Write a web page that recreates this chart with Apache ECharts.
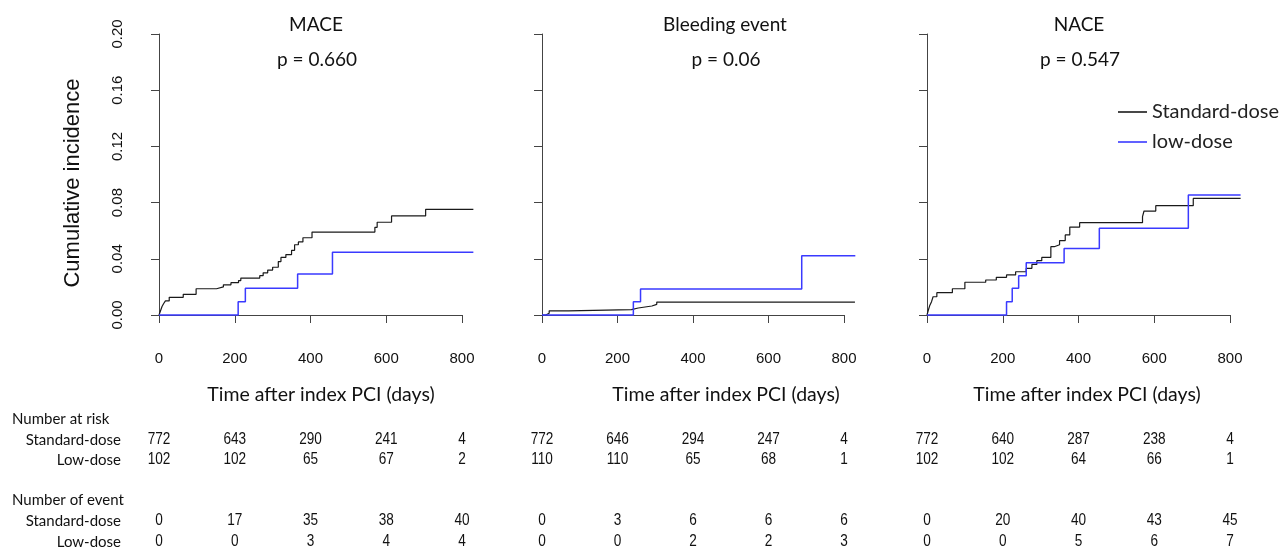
<!DOCTYPE html>
<html><head><meta charset="utf-8">
<script src="https://cdn.jsdelivr.net/npm/echarts@6/dist/echarts.min.js"></script>
<style>html,body{margin:0;padding:0;background:#fff}#c{width:1280px;height:549px}</style>
</head><body><div id="c"></div>
<script>
// ---- data ----
const panelTitles = ['MACE', 'Bleeding event', 'NACE'];
const pValues = ['p = 0.660', 'p = 0.06', 'p = 0.547'];
const seriesNames = ['Standard-dose', 'low-dose'];
const xTicks = [0, 200, 400, 600, 800];
const xDataMax = 830;
const yTickMin = 0, yTickMax = 0.2, yTickStep = 0.04;

const maceStdT = [0, 4, 8, 12, 17, 27, 64, 98, 152, 170, 190, 210, 216, 266, 275, 287, 300, 315, 322, 335, 350, 358, 368, 380, 404, 570, 576, 614, 704, 830];
const maceStdV = [0, 0.003, 0.006, 0.008, 0.010, 0.0126, 0.0147, 0.0187, 0.020, 0.0215, 0.023, 0.0245, 0.0263, 0.028, 0.030, 0.032, 0.034, 0.038, 0.041, 0.043, 0.046, 0.050, 0.052, 0.055, 0.059, 0.0624, 0.066, 0.0705, 0.0752, 0.0752];
const maceLowT = [0, 209, 228, 366, 458, 830];
const maceLowV = [0, 0.0095, 0.019, 0.0292, 0.0446, 0.0446];

const bleedStdT = [0, 10, 19, 70, 237, 255, 291, 304, 829];
const bleedStdV = [0, 0.0012, 0.003, 0.0038, 0.005, 0.0064, 0.0076, 0.0092, 0.0092];
const bleedLowT = [0, 242, 261, 688, 830];
const bleedLowV = [0, 0.0095, 0.0185, 0.0422, 0.0422];

const naceStdT = [0, 3, 7, 12, 16, 26, 67, 100, 155, 183, 210, 234, 262, 277, 290, 303, 327, 336, 350, 365, 377, 403, 569, 573, 604, 703, 828];
const naceStdV = [0, 0.003, 0.0065, 0.0095, 0.013, 0.0159, 0.0187, 0.0233, 0.0249, 0.0268, 0.0285, 0.0308, 0.0332, 0.036, 0.0387, 0.041, 0.0486, 0.050, 0.053, 0.057, 0.0626, 0.0657, 0.070, 0.074, 0.0778, 0.083, 0.083];
const naceLowT = [0, 210, 225, 242, 262, 362, 455, 690, 828];
const naceLowV = [0, 0.0095, 0.019, 0.028, 0.0372, 0.0474, 0.0617, 0.0854, 0.0854];

const tableTimes = [0, 200, 400, 600, 800];
const riskStd = [[772, 643, 290, 241, 4], [772, 646, 294, 247, 4], [772, 640, 287, 238, 4]];
const riskLow = [[102, 102, 65, 67, 2], [110, 110, 65, 68, 1], [102, 102, 64, 66, 1]];
const eventStd = [[0, 17, 35, 38, 40], [0, 3, 6, 6, 6], [0, 20, 40, 43, 45]];
const eventLow = [[0, 0, 3, 4, 4], [0, 0, 2, 2, 3], [0, 0, 5, 6, 7]];
const rowLabels = ['Number at risk', 'Standard-dose', 'Low-dose', 'Number of event', 'Standard-dose', 'Low-dose'];

// ---- layout / style ----
const gridLefts = [159, 542, 927];
const gridWidths = [303, 302, 303];
const yOffsets = [12, 14, 13];
const titleX = [316, 725, 1079];
const xNameX = [321, 726, 1087];
const cal = 'Lato, "Open Sans", sans-serif';
const ari = '"Liberation Sans", Arial, sans-serif';
const axisCol = '#444';
const blk = '#1a1a1a';
const blu = '#3a3aff';

const zip = (t, v) => t.map((x, i) => [x, v[i]]);
const curves = [
  [zip(maceStdT, maceStdV), zip(maceLowT, maceLowV)],
  [zip(bleedStdT, bleedStdV), zip(bleedLowT, bleedLowV)],
  [zip(naceStdT, naceStdV), zip(naceLowT, naceLowV)]
];

const chart = echarts.init(document.getElementById('c'), null, {renderer: 'canvas'});
const grids = [], xAxes = [], yAxes = [], series = [];
// display grids (axes 0..2)
for (let i = 0; i < 3; i++) {
  grids.push({left: gridLefts[i], width: gridWidths[i], top: 34, height: 281});
  xAxes.push({
    type: 'value', gridIndex: i, min: xTicks[0], max: xTicks[xTicks.length - 1], interval: 200,
    offset: 12,
    axisLine: {show: true, lineStyle: {color: axisCol, width: 1}},
    axisTick: {show: true, length: 8, lineStyle: {color: axisCol}},
    axisLabel: {show: true, fontFamily: ari, fontSize: 15, color: '#111', margin: 24, hideOverlap: false},
    splitLine: {show: false}
  });
  yAxes.push({
    type: 'value', gridIndex: i, min: yTickMin, max: yTickMax, interval: yTickStep,
    offset: yOffsets[i],
    axisLine: {show: true, lineStyle: {color: axisCol, width: 1}},
    axisTick: {show: true, length: 8, lineStyle: {color: axisCol}},
    axisLabel: {show: i === 0, rotate: 90, fontFamily: ari, fontSize: 15, color: '#111', margin: 22,
      formatter: v => v.toFixed(2)},
    splitLine: {show: false}
  });
}
// data grids (axes 3..5), extend past 800 days
for (let i = 0; i < 3; i++) {
  grids.push({left: gridLefts[i], width: gridWidths[i] * xDataMax / xTicks[xTicks.length - 1], top: 34, height: 281});
  xAxes.push({type: 'value', gridIndex: 3 + i, min: 0, max: xDataMax, show: false, splitLine: {show: false}});
  yAxes.push({type: 'value', gridIndex: 3 + i, min: yTickMin, max: yTickMax, show: false, splitLine: {show: false}});
  series.push({
    name: seriesNames[0], type: 'line', step: 'end', xAxisIndex: 3 + i, yAxisIndex: 3 + i,
    data: curves[i][0], symbol: 'none', clip: false, silent: true,
    lineStyle: {color: blk, width: 1.2}, itemStyle: {color: blk}
  });
  series.push({
    name: seriesNames[1], type: 'line', step: 'end', xAxisIndex: 3 + i, yAxisIndex: 3 + i,
    data: curves[i][1], symbol: 'none', clip: false, silent: true,
    lineStyle: {color: blu, width: 1.5}, itemStyle: {color: blu}
  });
}

chart.setOption({
  animation: false,
  backgroundColor: '#fff',
  grid: grids, xAxis: xAxes, yAxis: yAxes, series: series,
  legend: {
    data: seriesNames, orient: 'vertical', left: 1118, top: 102, padding: 0,
    itemWidth: 29, itemHeight: 1.6, itemGap: 10, icon: 'rect',
    textStyle: {fontFamily: cal, fontSize: 20, color: '#222'}
  }
});

// ---- texts ----
const g = [];
for (let i = 0; i < 3; i++) {
  g.push({type: 'text', x: titleX[i], y: 25, style: {text: panelTitles[i], font: '19px ' + cal, fill: '#111', textAlign: 'center', textVerticalAlign: 'middle'}});
  g.push({type: 'text', x: titleX[i] + 1, y: 60, style: {text: pValues[i], font: '19px ' + cal, fill: '#111', textAlign: 'center', textVerticalAlign: 'middle'}});
  g.push({type: 'text', x: xNameX[i], y: 395, style: {text: 'Time after index PCI (days)', font: '19.5px ' + cal, fill: '#111', textAlign: 'center', textVerticalAlign: 'middle'}});
}
g.push({type: 'text', x: 73, y: 183, rotation: Math.PI / 2, style: {text: 'Cumulative incidence', font: '22px ' + ari, fill: '#111', textAlign: 'center', textVerticalAlign: 'middle'}});

const rowY = [419, 440, 460, 500, 521, 542];
rowLabels.forEach((t, k) => {
  const head = (k === 0 || k === 3);
  g.push({type: 'text', x: head ? 12 : 121, y: rowY[k], style: {text: t, font: '15px ' + cal, fill: '#111', textAlign: head ? 'left' : 'right', textVerticalAlign: 'middle'}});
});
const tables = [null, riskStd, riskLow, null, eventStd, eventLow];
for (let i = 0; i < 3; i++) {
  tableTimes.forEach((tm, j) => {
    const px = chart.convertToPixel({gridIndex: i}, [tm, 0])[0];
    tables.forEach((tb, k) => {
      if (!tb) return;
      g.push({type: 'text', x: px, y: rowY[k], scaleX: 0.85, style: {text: String(tb[i][j]), font: '16px ' + ari, fill: '#111', textAlign: 'center', textVerticalAlign: 'middle'}});
    });
  });
}
chart.setOption({graphic: g});
</script></body></html>
